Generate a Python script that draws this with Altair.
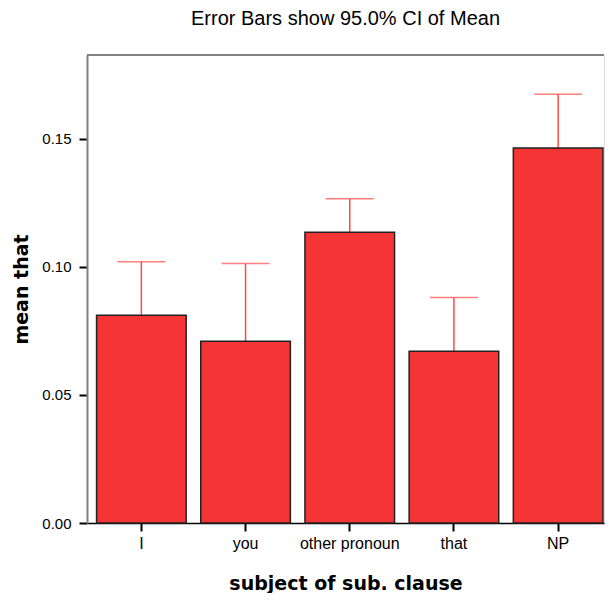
import altair as alt
import pandas as pd

categories = ["I", "you", "other pronoun", "that", "NP"]
means = [0.0811, 0.0710, 0.1135, 0.0670, 0.1464]
upper = [0.1020, 0.1013, 0.1266, 0.0880, 0.1674]
y_ticks = [0.0, 0.05, 0.10, 0.15]

df = pd.DataFrame({"cat": categories, "mean": means, "upper": upper})

BAR = "#F53535"
ERR = "#FF4848"

xenc = alt.X(
    "cat:N",
    sort=categories,
    scale=alt.Scale(paddingInner=0.14, paddingOuter=0.051, align=0.9),
    axis=alt.Axis(
        title="subject of sub. clause",
        labelAngle=0,
        labelFont="Liberation Sans",
        labelFontSize=16,
        labelColor="#000",
        labelPadding=4,
        tickSize=8,
        tickWidth=2,
        tickColor="#000",
        domainColor="#000",
        domainWidth=1.5,
        titleFont="DejaVu Sans",
        titleFontSize=19,
        titleFontWeight="bold",
        titleColor="#000",
        titlePadding=23,
    ),
)

yscale = alt.Scale(domain=[0, 0.1827], nice=False, zero=True)

base = alt.Chart(df)

rule = base.mark_rule(color=ERR, strokeWidth=1.5).encode(
    x=xenc,
    y=alt.Y(
        "mean:Q",
        scale=yscale,
        axis=alt.Axis(
            title="mean that",
            values=y_ticks,
            format=".2f",
            grid=False,
            labelFont="Liberation Sans",
            labelFontSize=15,
            labelColor="#000",
            labelPadding=8,
            tickSize=8,
            tickWidth=2,
            tickColor="#000",
            domainColor="#808080",
            domainWidth=2,
            titleFont="DejaVu Sans",
            titleFontSize=19,
            titleFontWeight="bold",
            titleColor="#000",
            titlePadding=10,
        ),
    ),
    y2="upper:Q",
)

cap = base.mark_tick(color=ERR, size=48, thickness=1.5).encode(
    x=xenc, y=alt.Y("upper:Q", scale=yscale)
)

bars = base.mark_bar(fill=BAR, stroke="#222", strokeWidth=1.5).encode(
    x=xenc, y=alt.Y("mean:Q", scale=yscale)
)

frame_top = alt.Chart(pd.DataFrame({"k": [0]})).mark_rule(
    color="#808080", strokeWidth=2
).encode(x=alt.value(0), x2=alt.value({"expr": "width"}), y=alt.value(0))

chart = (
    alt.layer(rule, cap, bars, frame_top)
    .properties(
        width=600,
        height=585,
        autosize=alt.AutoSizeParams(type="fit", contains="padding"),
        title=alt.TitleParams(
            "Error Bars show 95.0% CI of Mean",
            font="Liberation Sans",
            fontSize=20,
            fontWeight="normal",
            color="#000",
            anchor="middle",
            offset=25,
        ),
        padding={"left": 4, "top": 1, "right": 3, "bottom": 0},
    )
    .configure_view(stroke="transparent", strokeWidth=0)
    .configure(background="white")
)

chart.save("out.html", embed_options={"renderer": "svg", "actions": False})
